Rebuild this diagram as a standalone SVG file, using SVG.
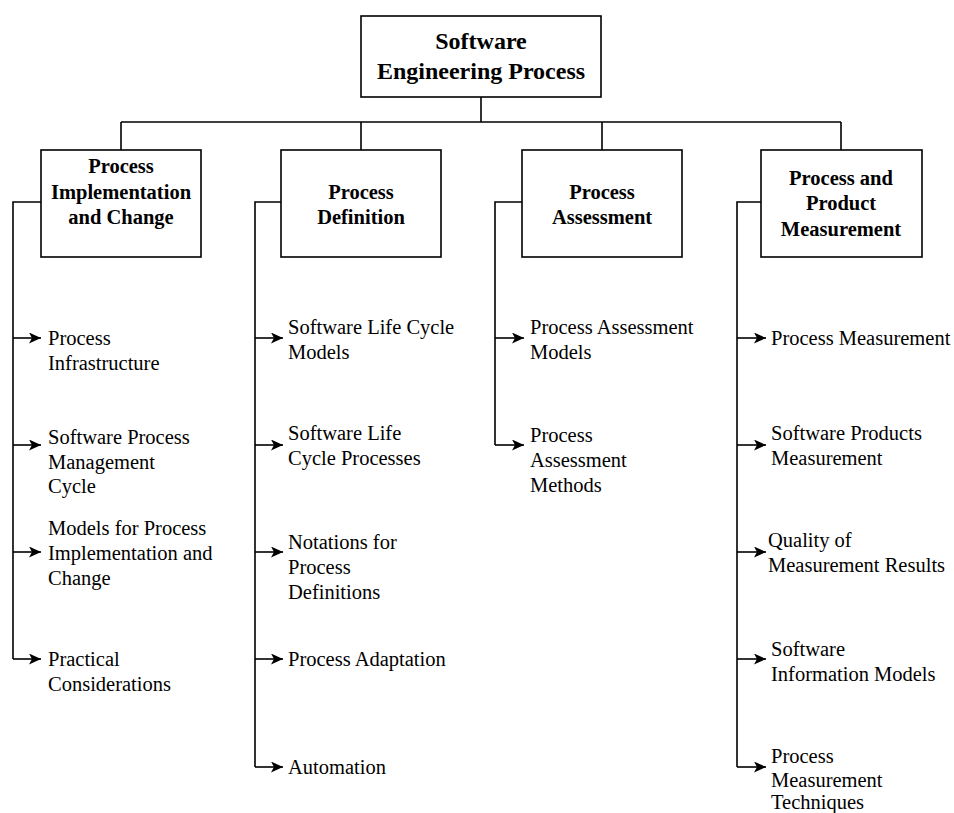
<svg xmlns="http://www.w3.org/2000/svg" width="954" height="813" viewBox="0 0 954 813">
<style>
.box{fill:#fff;stroke:#000;stroke-width:1.6}
.t{font-family:"Liberation Serif","Times New Roman",serif;fill:#000}
.title{font-weight:bold;font-size:20.5px;text-anchor:middle}
.top{font-weight:bold;font-size:24px;text-anchor:middle}
.item{font-size:20.5px}
.ln{fill:none;stroke:#000;stroke-width:1.6}
</style>
<defs>
<marker id="ah" markerUnits="userSpaceOnUse" markerWidth="13" markerHeight="11" refX="12" refY="5.5" orient="auto">
<path d="M0,0 L12,5.5 L0,11 L3,5.5 Z" fill="#000"/>
</marker>
</defs>
<g id="connectors">
<path class="ln" d="M481,97 V122 M121,122 H841 M121,122 V150 M361,122 V150 M602,122 V150 M841,122 V150"/>
<path class="ln" d="M41,202 H13 V659"/>
<path class="ln" d="M281,202 H255 V767"/>
<path class="ln" d="M522,202 H495 V445"/>
<path class="ln" d="M761,202 H737 V767"/>
<g class="ln" marker-end="url(#ah)">
<path d="M13,338 H41"/><path d="M13,445 H41"/><path d="M13,552 H41"/><path d="M13,659 H41"/>
<path d="M255,338 H283"/><path d="M255,445 H283"/><path d="M255,552 H283"/><path d="M255,659 H283"/><path d="M255,767 H283"/>
<path d="M495,338 H524"/><path d="M495,445 H524"/>
<path d="M737,338 H766"/><path d="M737,445 H766"/><path d="M737,552 H766"/><path d="M737,659 H766"/><path d="M737,767 H766"/>
</g>
</g>
<g id="root">
<rect class="box" x="361" y="16" width="240" height="81"/>
<text class="t top"><tspan x="481" y="49">Software</tspan><tspan x="481" y="79">Engineering Process</tspan></text>
</g>
<g id="impl">
<rect class="box" x="41" y="150" width="160" height="107"/>
<text class="t title"><tspan x="121" y="173">Process</tspan><tspan x="121" y="199">Implementation</tspan><tspan x="121" y="224">and Change</tspan></text>
</g>
<g id="def">
<rect class="box" x="281" y="150" width="160" height="107"/>
<text class="t title"><tspan x="361" y="199">Process</tspan><tspan x="361" y="224">Definition</tspan></text>
</g>
<g id="assess">
<rect class="box" x="522" y="150" width="160" height="107"/>
<text class="t title"><tspan x="602" y="199">Process</tspan><tspan x="602" y="224">Assessment</tspan></text>
</g>
<g id="meas">
<rect class="box" x="761" y="150" width="161" height="107"/>
<text class="t title"><tspan x="841" y="185">Process and</tspan><tspan x="841" y="210">Product</tspan><tspan x="841" y="236">Measurement</tspan></text>
</g>
<g id="impl-items">
<text class="t item"><tspan x="48" y="345">Process</tspan><tspan x="48" y="370">Infrastructure</tspan></text>
<text class="t item"><tspan x="48" y="444">Software Process</tspan><tspan x="48" y="469">Management</tspan><tspan x="48" y="493">Cycle</tspan></text>
<text class="t item"><tspan x="48" y="535">Models for Process</tspan><tspan x="48" y="560">Implementation and</tspan><tspan x="48" y="585">Change</tspan></text>
<text class="t item"><tspan x="48" y="666">Practical</tspan><tspan x="48" y="691">Considerations</tspan></text>
</g>
<g id="def-items">
<text class="t item"><tspan x="288" y="334">Software Life Cycle</tspan><tspan x="288" y="359">Models</tspan></text>
<text class="t item"><tspan x="288" y="440">Software Life</tspan><tspan x="288" y="465">Cycle Processes</tspan></text>
<text class="t item"><tspan x="288" y="549">Notations for</tspan><tspan x="288" y="574">Process</tspan><tspan x="288" y="599">Definitions</tspan></text>
<text class="t item"><tspan x="288" y="666">Process Adaptation</tspan></text>
<text class="t item"><tspan x="288" y="774">Automation</tspan></text>
</g>
<g id="assess-items">
<text class="t item"><tspan x="530" y="334">Process Assessment</tspan><tspan x="530" y="359">Models</tspan></text>
<text class="t item"><tspan x="530" y="442">Process</tspan><tspan x="530" y="467">Assessment</tspan><tspan x="530" y="492">Methods</tspan></text>
</g>
<g id="meas-items">
<text class="t item"><tspan x="771" y="345">Process Measurement</tspan></text>
<text class="t item"><tspan x="771" y="440">Software Products</tspan><tspan x="771" y="465">Measurement</tspan></text>
<text class="t item"><tspan x="768" y="547">Quality of</tspan><tspan x="768" y="572">Measurement Results</tspan></text>
<text class="t item"><tspan x="771" y="656">Software</tspan><tspan x="771" y="681">Information Models</tspan></text>
<text class="t item"><tspan x="771" y="763">Process</tspan><tspan x="771" y="787">Measurement</tspan><tspan x="771" y="809">Techniques</tspan></text>
</g>
</svg>
